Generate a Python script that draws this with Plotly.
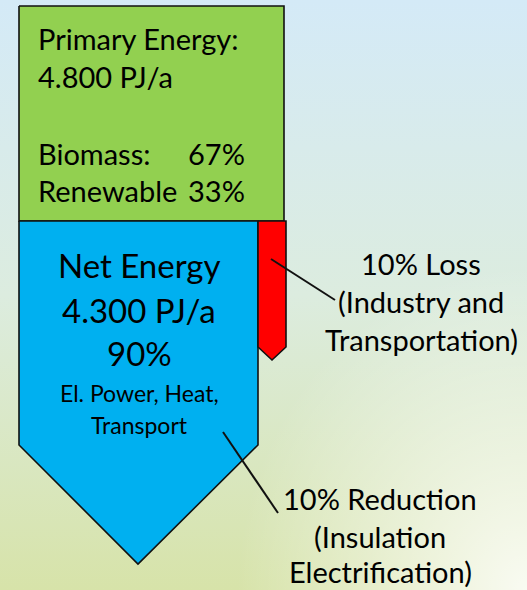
import base64
import plotly.graph_objects as go

# --- data ---
primary_energy_pj = 4800
net_energy_pj = 4300
mix_labels = ["Biomass:", "Renewable"]
mix_shares = [67, 33]
net_share = 90
net_uses = ["El. Power, Heat,", "Transport"]
loss_share = 10
loss_note = ["(Industry and", "Transportation)"]
reduction_share = 10
reduction_note = ["(Insulation", "Electrification)"]

W, H = 527, 590
FONT = "Lato"
INK = "#000000"


def pj(v):
    # 4800 -> "4.800"
    return f"{v:,}".replace(",", ".")


# background gradient as inline svg
svg = f"""<svg xmlns='http://www.w3.org/2000/svg' width='{W}' height='{H}'>
<defs>
<linearGradient id='g' x1='0' y1='0' x2='0' y2='1'>
<stop offset='0' stop-color='#d4eaf7'/>
<stop offset='0.5' stop-color='#dcecdf'/>
<stop offset='1' stop-color='#d7e3a9'/>
</linearGradient>
<radialGradient id='r' cx='1' cy='1' r='0.55'>
<stop offset='0' stop-color='#ffffff' stop-opacity='0.85'/>
<stop offset='1' stop-color='#ffffff' stop-opacity='0'/>
</radialGradient>
</defs>
<rect width='100%' height='100%' fill='url(#g)'/>
<rect width='100%' height='100%' fill='url(#r)'/>
</svg>"""
bg_src = "data:image/svg+xml;base64," + base64.b64encode(svg.encode()).decode()

fig = go.Figure()


def poly(xs, ys, fill):
    fig.add_trace(go.Scatter(
        x=xs + xs[:1], y=ys + ys[:1], mode="lines", fill="toself",
        fillcolor=fill, line=dict(color="#111111", width=1.6),
        hoverinfo="skip", showlegend=False,
    ))


def seg(x0, y0, x1, y1):
    fig.add_trace(go.Scatter(
        x=[x0, x1], y=[y0, y1], mode="lines",
        line=dict(color="#111111", width=2), hoverinfo="skip", showlegend=False,
    ))


# primary energy box
poly([19, 284, 284, 19], [6, 6, 221, 221], "#92d050")
# net energy arrow
poly([19, 258, 258, 138, 19], [221, 221, 445, 564, 445], "#00b0f0")
# loss arrow
poly([258, 286, 286, 272, 258], [221, 221, 347, 360, 347], "#ff0000")
# leader lines
seg(271, 259, 335, 300)
seg(223, 432, 278, 513)


def txt(x, y, s, size, anchor="center", yanchor="middle"):
    fig.add_annotation(x=x, y=y, text=s, showarrow=False, xanchor=anchor,
                       yanchor=yanchor, borderpad=0,
                       font=dict(family=FONT, size=size, color=INK))


# primary energy text
txt(37, 38, "Primary Energy:", 29, "left")
txt(37, 76, f"{pj(primary_energy_pj)} PJ/a", 29, "left")
for i, (lab, sh) in enumerate(zip(mix_labels, mix_shares)):
    y = 153 + i * 37
    txt(37, y, lab, 29, "left")
    txt(246, y, f"{sh}%", 29, "right")

# net energy text
txt(139, 265, "Net Energy", 33)
txt(139, 310, f"{pj(net_energy_pj)} PJ/a", 33)
txt(139, 353, f"{net_share}%", 33)
for i, s in enumerate(net_uses):
    txt(139, 393 + i * 32, s, 23)

# side notes
txt(421, 263, f"{loss_share}% Loss", 29)
for i, s in enumerate(loss_note):
    txt(421, 301 + i * 38, s, 29)
txt(380, 498, f"{reduction_share}% Reduction", 29)
txt(380, 536, reduction_note[0], 29)
txt(380, H, reduction_note[1], 29, yanchor="bottom")

fig.add_layout_image(dict(source=bg_src, xref="paper", yref="paper", x=0, y=1,
                          sizex=1, sizey=1, sizing="stretch", layer="below"))

fig.update_xaxes(range=[0, W], visible=False, fixedrange=True)
fig.update_yaxes(range=[H, 0], visible=False, fixedrange=True)
fig.update_layout(
    width=W, height=H,
    margin=dict(l=0, r=0, t=0, b=0),
    paper_bgcolor="white", plot_bgcolor="rgba(0,0,0,0)",
)

fig.write_html("out.html", config={"displayModeBar": False},
               post_script="document.body.style.margin='0';")
